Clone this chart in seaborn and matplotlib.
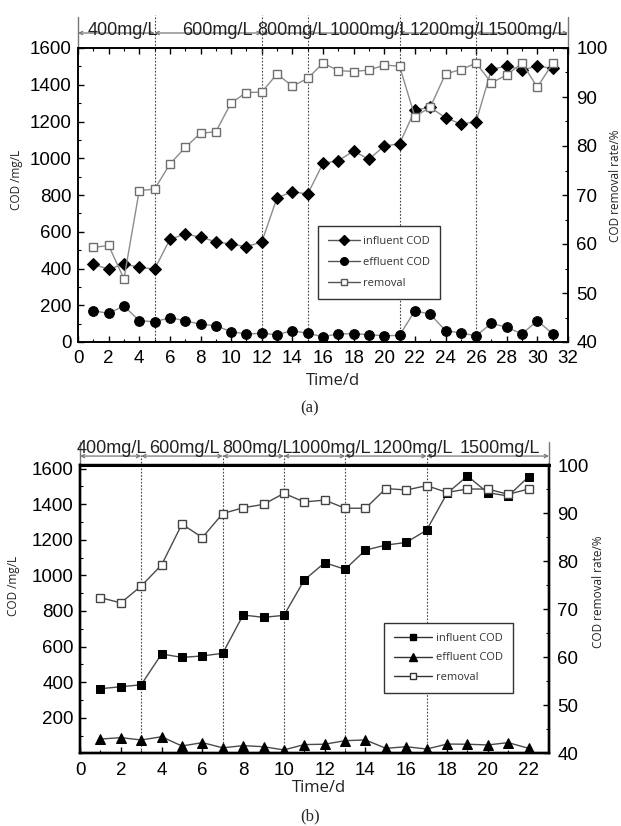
import numpy as np
import pandas as pd
import matplotlib
matplotlib.use("Agg")
import matplotlib.pyplot as plt
import seaborn as sns
from matplotlib.transforms import blended_transform_factory
from matplotlib.ticker import MultipleLocator
from matplotlib.lines import Line2D

# ---------------- data: chart (a) ----------------
days_a = list(range(1, 32))
influent_a = [423, 396, 424, 407, 396, 559, 588, 570, 546, 532, 519, 544, 785, 818, 805,
              972, 987, 1039, 994, 1067, 1078, 1263, 1277, 1221, 1186, 1199, 1484, 1502, 1480, 1502, 1489]
effluent_a = [170, 156, 196, 116, 110, 132, 116, 96, 89, 56, 44, 47, 40, 62, 47,
              29, 44, 45, 40, 34, 36, 170, 151, 62, 49, 34, 102, 80, 44, 116, 45]
removal_a = [59.3, 59.7, 52.9, 70.9, 71.2, 76.3, 79.7, 82.6, 82.9, 88.8, 90.9, 91.0, 94.7, 92.2, 93.8,
             96.9, 95.4, 95.2, 95.5, 96.5, 96.3, 86.0, 87.9, 94.7, 95.6, 96.9, 92.9, 94.5, 96.9, 92.0, 96.9]
stage_edges_a = [0, 5, 12, 15, 21, 26, 32]
stage_labels_a = ["400mg/L", "600mg/L", "800mg/L", "1000mg/L", "1200mg/L", "1500mg/L"]
stage_label_x_a = [2.94, 9.11, 13.98, 19.04, 24.27, 29.36]

# ---------------- data: chart (b) ----------------
days_b = list(range(1, 23))
influent_b = [363, 374, 385, 558, 539, 547, 562, 777, 764, 775, 974, 1071, 1034, 1142, 1170,
              1185, 1254, 1461, 1558, 1464, 1446, 1554]
effluent_b = [80, 88, 75, 93, 41, 60, 31, 43, 37, 19, 49, 51, 71, 75, 28, 37, 24, 52, 51, 47, 60, 28]
removal_b = [72.4, 71.3, 74.8, 79.2, 87.7, 84.9, 89.9, 91.1, 91.8, 94.1, 92.3, 92.7, 91.0, 91.0, 95.1,
             94.8, 95.7, 94.3, 95.0, 95.0, 93.9, 95.0]
stage_edges_b = [0, 3, 7, 10, 13, 17, 23]
stage_labels_b = ["400mg/L", "600mg/L", "800mg/L", "1000mg/L", "1200mg/L", "1500mg/L"]
stage_label_x_b = [1.56, 5.1, 8.7, 12.3, 16.3, 20.6]

sns.set_style("ticks")
plt.rcParams['font.family'] = ['Liberation Sans', 'DejaVu Sans']

W, H = 621, 826
fig = plt.figure(figsize=(W / 100, H / 100), dpi=100)


def px_axes(l, r, t, b):
    return fig.add_axes([l / W, 1 - b / H, (r - l) / W, (b - t) / H])


def style_axes(ax, ax2, spine_lw, top_ticks):
    for a in (ax, ax2):
        for s in a.spines.values():
            s.set_linewidth(spine_lw)
            s.set_color('black')
    ax.tick_params(axis='both', which='both', direction='in', labelsize=13.5, colors='black')
    ax.tick_params(axis='both', which='major', length=4, width=1.0, pad=4.5)
    ax.tick_params(axis='both', which='minor', length=2.5, width=0.8)
    ax.tick_params(axis='x', which='major', pad=6)
    ax.tick_params(axis='x', which='both', top=top_ticks)
    ax2.tick_params(axis='y', which='both', direction='in', labelsize=13.5, colors='black')
    ax2.tick_params(axis='y', which='major', length=4, width=1.0, pad=6)
    ax2.tick_params(axis='y', which='minor', length=2.5, width=0.8)


def header(ax, edges, labels, label_x, y_line, y_top, y_text, y_dot, color):
    tr = blended_transform_factory(ax.transData, ax.transAxes)
    for a, b in zip(edges[:-1], edges[1:]):
        ax.annotate('', xy=(a, y_line), xytext=(b, y_line), xycoords=tr, textcoords=tr,
                    arrowprops=dict(arrowstyle='<->', color=color, lw=0.9, shrinkA=0, shrinkB=0,
                                    mutation_scale=6), annotation_clip=False)
    for x in (edges[0], edges[-1]):
        ax.plot([x, x], [1, y_top], transform=tr, color=color, lw=1.0, clip_on=False)
    for x in edges[1:-1]:
        ax.plot([x, x], [0, y_dot], transform=tr, color='#444444', lw=0.8, ls=(0, (1.5, 1.5)),
                clip_on=False, zorder=1)
    for lab, x in zip(labels, label_x):
        ax.text(x, y_text, lab, transform=tr, ha='center', va='baseline', fontsize=13,
                color='#222222')


def draw(ax, ax2, days, infl, effl, rem, infl_marker, effl_marker, line_c, rem_edge, ms):
    df = pd.DataFrame({'day': days, 'influent': infl, 'effluent': effl, 'removal': rem})
    sns.lineplot(data=df, x='day', y='influent', ax=ax, color=line_c, lw=1.0, marker=infl_marker,
                 markersize=ms[0], markerfacecolor='black', markeredgecolor='black',
                 estimator=None, sort=False, legend=False)
    sns.lineplot(data=df, x='day', y='effluent', ax=ax, color=line_c, lw=1.0, marker=effl_marker,
                 markersize=ms[1], markerfacecolor='black', markeredgecolor='black',
                 estimator=None, sort=False, legend=False)
    sns.lineplot(data=df, x='day', y='removal', ax=ax2, color=line_c, lw=1.0, marker='s',
                 markersize=ms[2], markerfacecolor='white', markeredgecolor=rem_edge,
                 markeredgewidth=1.0, estimator=None, sort=False, legend=False)


def legend(ax, infl_marker, effl_marker, line_c, rem_edge, ms, anchor, fs, hl, spacing):
    handles = [
        Line2D([], [], color=line_c, lw=1.0, marker=infl_marker, markersize=ms[0],
               markerfacecolor='black', markeredgecolor='black'),
        Line2D([], [], color=line_c, lw=1.0, marker=effl_marker, markersize=ms[1],
               markerfacecolor='black', markeredgecolor='black'),
        Line2D([], [], color=line_c, lw=1.0, marker='s', markersize=ms[2],
               markerfacecolor='white', markeredgecolor=rem_edge),
    ]
    leg = ax.legend(handles, ['influent COD', 'effluent COD', 'removal'], loc='upper left',
                    bbox_to_anchor=anchor, bbox_transform=fig.transFigure, frameon=True,
                    fancybox=False, edgecolor='#333333', framealpha=1, handlelength=hl,
                    handletextpad=0.3, labelspacing=spacing, borderpad=0.9,
                    prop={'family': 'Open Sans', 'size': fs})
    leg.get_frame().set_linewidth(1.0)
    for t in leg.get_texts():
        t.set_color('#333333')
    leg.set_zorder(20)


# ================= chart (a) =================
ax = px_axes(78, 568, 48, 342)
ax2 = ax.twinx()
draw(ax, ax2, days_a, influent_a, effluent_a, removal_a, 'D', 'o', '#8c8c8c', '#6e6e6e', (6, 7, 6))
ax.set_xlim(0, 32)
ax.set_ylim(0, 1600)
ax2.set_ylim(40, 100)
ax.xaxis.set_major_locator(MultipleLocator(2))
ax.xaxis.set_minor_locator(MultipleLocator(1))
ax.yaxis.set_major_locator(MultipleLocator(200))
ax.yaxis.set_minor_locator(MultipleLocator(100))
ax2.yaxis.set_major_locator(MultipleLocator(10))
ax2.yaxis.set_minor_locator(MultipleLocator(5))
style_axes(ax, ax2, 1.2, True)
ax.set_xlabel('Time/d', fontsize=12, family='Open Sans', color='#222222')
ax.xaxis.set_label_coords(0.52, -0.105)
ax.set_ylabel('COD /mg/L', fontsize=8.5, family='Open Sans', color='#222222')
ax.yaxis.set_label_coords(-0.112, 0.55)
ax2.set_ylabel('COD removal rate/%', fontsize=8.5, family='Open Sans', color='#222222')
ax2.yaxis.set_label_coords(1.083, 0.53)
header(ax, stage_edges_a, stage_labels_a, stage_label_x_a, 1.051, 1.105, 1.043, 1.112, '#777777')
legend(ax2, 'D', 'o', '#555555', '#555555', (5, 5.5, 5), (312 / W, 1 - 220 / H), 8, 2.9, 0.9)

# ================= chart (b) =================
bx = px_axes(80, 549, 465, 753.3)
bx2 = bx.twinx()
draw(bx, bx2, days_b, influent_b, effluent_b, removal_b, 's', '^', '#4a4a4a', '#444444', (6, 7, 6))
bx.set_xlim(0, 23)
bx.set_ylim(0, 1620)
bx2.set_ylim(40, 100)
bx.xaxis.set_major_locator(MultipleLocator(2))
bx.xaxis.set_minor_locator(MultipleLocator(1))
bx.set_yticks([200, 400, 600, 800, 1000, 1200, 1400, 1600])
bx.yaxis.set_minor_locator(MultipleLocator(100))
bx2.yaxis.set_major_locator(MultipleLocator(10))
bx2.yaxis.set_minor_locator(MultipleLocator(5))
style_axes(bx, bx2, 1.7, False)
bx.spines['top'].set_linewidth(2.2)
bx.set_xlabel('Time/d', fontsize=12, family='Open Sans', color='#222222')
bx.xaxis.set_label_coords(0.51, -0.093)
bx.set_ylabel('COD /mg/L', fontsize=8.5, family='Open Sans', color='#222222')
bx.yaxis.set_label_coords(-0.128, 0.58)
bx2.set_ylabel('COD removal rate/%', fontsize=8.5, family='Open Sans', color='#222222')
bx2.yaxis.set_label_coords(1.092, 0.56)
header(bx, stage_edges_b, stage_labels_b, stage_label_x_b, 1.031, 1.080, 1.0416, 1.035, '#777777')
legend(bx2, 's', '^', '#333333', '#333333', (5, 6, 5), (378 / W, 1 - 617 / H), 8, 3.5, 0.8)

fig.text(310 / W, 1 - 408 / H, '(a)', family='Liberation Serif', fontsize=12, ha='center', va='center')
fig.text(310 / W, 1 - 816 / H, '(b)', family='Liberation Serif', fontsize=12, ha='center', va='center')

fig.savefig('out.png', dpi=100)
